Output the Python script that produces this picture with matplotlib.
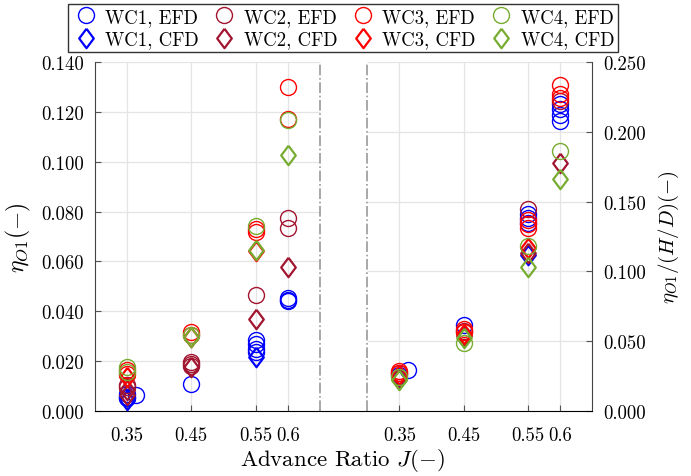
import numpy as np
import matplotlib
matplotlib.use("Agg")
import matplotlib.pyplot as plt
from matplotlib.lines import Line2D

plt.rcParams['font.family'] = 'serif'
plt.rcParams['font.serif'] = ['cmr10', 'DejaVu Serif']
plt.rcParams['mathtext.fontset'] = 'cm'
plt.rcParams['axes.unicode_minus'] = False

# Datos: panel izquierdo (eta_O1)
wc1_efd_J = [0.35, 0.35, 0.35, 0.364, 0.45, 0.55, 0.55, 0.55, 0.55, 0.6, 0.6, 0.6]
wc1_efd_eta = [0.0068, 0.0058, 0.0052, 0.0064, 0.011, 0.0285, 0.027, 0.025, 0.0235, 0.0452, 0.0446, 0.044]
wc1_cfd_J = [0.35, 0.55]
wc1_cfd_eta = [0.0045, 0.0215]
wc2_efd_J = [0.35, 0.35, 0.45, 0.45, 0.45, 0.55, 0.6, 0.6]
wc2_efd_eta = [0.0105, 0.0095, 0.0195, 0.0188, 0.018, 0.0465, 0.0775, 0.0733]
wc2_cfd_J = [0.35, 0.35, 0.45, 0.55, 0.6]
wc2_cfd_eta = [0.0085, 0.0065, 0.0175, 0.0368, 0.0578]
wc3_efd_J = [0.35, 0.35, 0.45, 0.45, 0.55, 0.55, 0.6, 0.6]
wc3_efd_eta = [0.0165, 0.015, 0.0315, 0.0305, 0.0732, 0.0718, 0.130, 0.117]
wc3_cfd_J = [0.35, 0.45, 0.55]
wc3_cfd_eta = [0.0135, 0.0295, 0.0642]
wc4_efd_J = [0.35, 0.35, 0.45, 0.55, 0.6]
wc4_efd_eta = [0.0175, 0.0155, 0.0305, 0.0742, 0.1168]
wc4_cfd_J = [0.45, 0.55, 0.6]
wc4_cfd_eta = [0.0295, 0.0645, 0.1025]

# Datos: panel derecho (eta_O1 / (H/D))
wc1_efd_J2 = [0.364, 0.35, 0.45, 0.55, 0.55, 0.55, 0.6, 0.6, 0.6, 0.6]
wc1_efd_r = [0.0292, 0.026, 0.0615, 0.141, 0.138, 0.135, 0.220, 0.216, 0.212, 0.208]
wc1_cfd_J2 = [0.35, 0.55]
wc1_cfd_r = [0.025, 0.112]
wc2_efd_J2 = [0.35, 0.45, 0.55, 0.6]
wc2_efd_r = [0.027, 0.057, 0.145, 0.222]
wc2_cfd_J2 = [0.35, 0.45, 0.55, 0.6]
wc2_cfd_r = [0.023, 0.054, 0.1135, 0.178]
wc3_efd_J2 = [0.35, 0.35, 0.45, 0.45, 0.55, 0.55, 0.55, 0.6, 0.6, 0.6]
wc3_efd_r = [0.0285, 0.027, 0.0585, 0.0565, 0.137, 0.134, 0.131, 0.2335, 0.227, 0.224]
wc3_cfd_J2 = [0.35, 0.45, 0.55]
wc3_cfd_r = [0.026, 0.055, 0.1165]
wc4_efd_J2 = [0.35, 0.45, 0.55, 0.6]
wc4_efd_r = [0.0245, 0.049, 0.118, 0.186]
wc4_cfd_J2 = [0.35, 0.45, 0.55, 0.6]
wc4_cfd_r = [0.022, 0.052, 0.1035, 0.1665]

xticks = [0.35, 0.45, 0.55, 0.6]
xtick_labels = ['0.35', '0.45', '0.55', '0.6']
yticks_left = [0.0, 0.02, 0.04, 0.06, 0.08, 0.10, 0.12, 0.14]
yticks_right = [0.0, 0.05, 0.10, 0.15, 0.20, 0.25]

colores = {'WC1': '#0000FF', 'WC2': '#A2142F', 'WC3': '#FF0000', 'WC4': '#77AC30'}
diamante = [(0, 1), (0.75, 0), (0, -1), (-0.75, 0), (0, 1)]

izq = [('WC1', wc1_efd_J, wc1_efd_eta, wc1_cfd_J, wc1_cfd_eta),
       ('WC2', wc2_efd_J, wc2_efd_eta, wc2_cfd_J, wc2_cfd_eta),
       ('WC3', wc3_efd_J, wc3_efd_eta, wc3_cfd_J, wc3_cfd_eta),
       ('WC4', wc4_efd_J, wc4_efd_eta, wc4_cfd_J, wc4_cfd_eta)]
der = [('WC1', wc1_efd_J2, wc1_efd_r, wc1_cfd_J2, wc1_cfd_r),
       ('WC2', wc2_efd_J2, wc2_efd_r, wc2_cfd_J2, wc2_cfd_r),
       ('WC3', wc3_efd_J2, wc3_efd_r, wc3_cfd_J2, wc3_cfd_r),
       ('WC4', wc4_efd_J2, wc4_efd_r, wc4_cfd_J2, wc4_cfd_r)]

fig = plt.figure(figsize=(6.91, 4.77), dpi=100)
W, H = 691, 477
y0, y1 = 412, 63
ax1 = fig.add_axes([95 / W, (H - y0) / H, (343.5 - 95) / W, (y0 - y1) / H])
ax2 = fig.add_axes([343.5 / W, (H - y0) / H, (592 - 343.5) / W, (y0 - y1) / H])

grid_c = '#e4e4e4'


def dibujar(ax, datos, yticks, ymax, xlim, rango):
    ax.set_xlim(*xlim)
    ax.set_ylim(0, ymax)
    for y in yticks:
        ax.hlines(y, rango[0], rango[1], color=grid_c, lw=0.9, zorder=0)
    for x in xticks:
        ax.axvline(x, color=grid_c, lw=0.9, zorder=0)
    for nombre, je, ve, jc, vc in datos:
        c = colores[nombre]
        ax.plot(je, ve, 'o', ms=11.5, mfc='none', mec=c, mew=1.0, ls='none', zorder=3)
        ax.plot(jc, vc, marker=diamante, ms=14, mfc='none', mec=c, mew=1.6, ls='none', zorder=3)
    ax.set_xticks(xticks)
    ax.set_xticklabels(xtick_labels)
    ax.set_yticks(yticks)
    ax.tick_params(direction='in', length=4, color='#555555', labelsize=13.5, pad=8)
    ax.tick_params(axis='x', pad=11)
    ax.spines['top'].set_visible(False)
    ax.spines['bottom'].set_color('black')


dibujar(ax1, izq, yticks_left, 0.14, (0.3, 0.687), (0.3, 0.65))
ax1.set_yticklabels(['%.3f' % v for v in yticks_left])
ax1.spines['right'].set_visible(False)
ax1.spines['left'].set_color('#444444')
ax1.axvline(0.65, color='#999999', lw=1.2, ls='-.', zorder=1)
ax1.set_ylabel(r'$\eta_{O1}(-)$', fontsize=17, labelpad=6)

dibujar(ax2, der, yticks_right, 0.25, (0.263, 0.65), (0.3, 0.65))
ax2.yaxis.tick_right()
ax2.yaxis.set_label_position('right')
ax2.set_yticklabels(['%.3f' % v for v in yticks_right])
ax2.spines['left'].set_visible(False)
ax2.spines['right'].set_color('#444444')
ax2.axvline(0.3, color='#999999', lw=1.2, ls='-.', zorder=1)
ax2.set_ylabel(r'$\eta_{O1}/(H/D)(-)$', fontsize=15, labelpad=8)

fig.text(342 / W, 1 - 461 / H, r'Advance Ratio $J(-)$', ha='center', va='center', fontsize=16.5)

handles = []
labels = []
for nombre in ['WC1', 'WC2', 'WC3', 'WC4']:
    c = colores[nombre]
    handles.append(Line2D([], [], marker='o', ms=11.5, mfc='none', mec=c, mew=1.0, ls='none'))
    labels.append(nombre + ', EFD')
    handles.append(Line2D([], [], marker=diamante, ms=14, mfc='none', mec=c, mew=1.6, ls='none'))
    labels.append(nombre + ', CFD')

leg = fig.legend(handles, labels, ncol=4, loc='upper center', bbox_to_anchor=(343 / W, 1 - 5 / H),
                 fontsize=13.5, frameon=True, fancybox=False, edgecolor='black',
                 handletextpad=0.3, columnspacing=0.6, labelspacing=0.25,
                 borderpad=0.2, handlelength=1.5, borderaxespad=0)
leg.get_frame().set_linewidth(1.0)

fig.savefig('out.png', dpi=100)
